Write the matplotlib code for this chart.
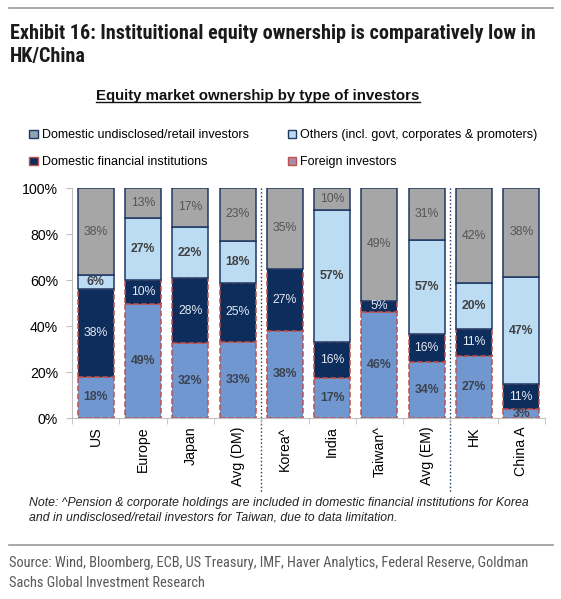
import matplotlib
matplotlib.use("Agg")
import matplotlib.pyplot as plt
import matplotlib.transforms as mtransforms
from matplotlib import font_manager as fm
from matplotlib.patches import Patch
from matplotlib.lines import Line2D
import numpy as np

# Data (bar heights in %, and the printed labels)
markets = ["US", "Europe", "Japan", "Avg (DM)", "Korea^", "India",
           "Taiwan^", "Avg (EM)", "HK", "China A"]
retail = [18, 49.6, 32.5, 33.2, 38, 17.2, 46.2, 24.5, 27, 3.8]
dfi = [38, 10.4, 28.2, 25.6, 27, 16, 4.8, 12, 11.7, 10.8]
others = [6, 26.8, 22.5, 18.3, 0, 57.2, 0, 41, 19.9, 46.8]
foreign = [38, 13.2, 16.8, 22.9, 35, 9.6, 49, 22.5, 41.4, 38.6]

retail_lbl = [18, 49, 32, 33, 38, 17, 46, 34, 27, 3]
dfi_lbl = [38, 10, 28, 25, 27, 16, 5, 16, 11, 11]
others_lbl = [6, 27, 22, 18, None, 57, None, 57, 20, 47]
foreign_lbl = [38, 13, 17, 23, 35, 10, 49, 31, 42, 38]

yticks = [0, 20, 40, 60, 80, 100]
group_breaks = [3.5, 7.5]

ARIAL = ["Liberation Sans", "DejaVu Sans"]

# pick a narrow face for the title/source if one is installed
avail = {(f.name, f.stretch) for f in fm.fontManager.ttflist}
narrow_family, narrow_stretch = "Liberation Sans", "normal"
for fam, st in [("Liberation Sans Narrow", None), ("Roboto Condensed", None),
                ("Noto Sans", "condensed"), ("Open Sans", "condensed"),
                ("Roboto", "condensed"), ("DejaVu Sans", "condensed")]:
    hits = [s for (n, s) in avail if n == fam and (st is None or s == st)]
    if hits:
        narrow_family, narrow_stretch = fam, (st or "normal")
        break
NARROW = [narrow_family, "DejaVu Sans"]

GREY = "#a6a6a6"
LIGHT = "#bcdcf4"
NAVY = "#0d2d5c"
MID = "#7097cf"
RED = "#c0504d"
EDGE = "#1f3864"

W, H = 561, 599
fig = plt.figure(figsize=(W / 100, H / 100), dpi=100)


def fx(px):
    return px / W


def fy(py):
    return 1 - py / H


ax = fig.add_axes([fx(72), fy(418), fx(545) - fx(72), fy(188) - fy(418)])

x = np.arange(len(markets))
width = 0.76
bottom = np.zeros(len(markets))
series = [
    (retail, retail_lbl, MID, RED, "--", "#3b4250", "bold"),
    (dfi, dfi_lbl, NAVY, RED, "--", "#e4e9f2", "normal"),
    (others, others_lbl, LIGHT, EDGE, "-", "#404040", "bold"),
    (foreign, foreign_lbl, GREY, EDGE, "-", "#555555", "normal"),
]
for vals, lbls, fc, ec, ls, tc, fw in series:
    vals = np.array(vals, dtype=float)
    ax.bar(x, vals, width, bottom=bottom, color=fc, edgecolor=ec,
           linestyle=ls, linewidth=1.1, zorder=2)
    for i, (v, l) in enumerate(zip(vals, lbls)):
        if l is None:
            continue
        ax.text(x[i], bottom[i] + v / 2, f"{l}%", ha="center", va="center",
                fontsize=8.8, color=tc, fontweight=fw, family=ARIAL, zorder=3)
    bottom += vals

ax.set_xlim(-0.5, len(markets) - 0.5)
ax.set_ylim(0, 100)
ax.set_yticks(yticks)
ax.set_yticklabels([f"{t}%" for t in yticks], family=ARIAL, fontsize=10.2)
ax.set_xticks(x)
ax.set_xticklabels(markets, rotation=90, family=ARIAL, fontsize=10.2)
ax.set_xticks(np.arange(-0.5, len(markets)), minor=True)
ax.tick_params(axis="x", which="major", length=0, pad=6)
ax.tick_params(axis="x", which="minor", length=4, color="#bfbfbf")
ax.tick_params(axis="y", length=4, color="#bfbfbf", pad=6)
for s in ["top", "right"]:
    ax.spines[s].set_visible(False)
for s in ["left", "bottom"]:
    ax.spines[s].set_color("#bfbfbf")

# dotted separators between DM / EM / China groups
trans = mtransforms.blended_transform_factory(ax.transData, ax.transAxes)
for b in group_breaks:
    ax.plot([b, b], [1.0, -(492 - 418) / 230], transform=trans, color=EDGE,
            linestyle=":", linewidth=1.0, clip_on=False, zorder=1)

# legend (column-wise fill)
handles = [
    Patch(facecolor="#93a3b6", edgecolor=EDGE, linewidth=1),
    Patch(facecolor=NAVY, edgecolor=RED, linewidth=1),
    Patch(facecolor=LIGHT, edgecolor=EDGE, linewidth=1),
    Patch(facecolor="#a88cab", edgecolor=RED, linewidth=1),
]
labels = ["Domestic undisclosed/retail investors",
          "Domestic financial institutions",
          "Others (incl. govt, corporates & promoters)",
          "Foreign investors"]
fig.legend(handles, labels, ncol=2, loc="upper left",
           bbox_to_anchor=(fx(23), fy(123)), frameon=False, borderpad=0,
           handlelength=0.7, handleheight=0.7, handletextpad=0.3,
           columnspacing=3.1, labelspacing=1.2,
           prop={"family": ARIAL, "size": 9})

# titles
t1 = fig.text(fx(10), fy(39), "Exhibit 16: Instituitional equity ownership is comparatively low in",
              family=NARROW, stretch=narrow_stretch, fontweight="bold",
              fontsize=14.5, color="#1a1a1a", va="baseline")
t2 = fig.text(fx(10), fy(62), "HK/China", family=NARROW, stretch=narrow_stretch,
              fontweight="bold", fontsize=14.5, color="#1a1a1a", va="baseline")
sub = fig.text(fx(258), fy(100), "Equity market ownership by type of investors",
               family=ARIAL, fontweight="bold", fontsize=10.8, color="#111111",
               ha="center", va="baseline")

note1 = fig.text(fx(29), fy(503), "Note: ^Pension & corporate holdings are included in domestic financial institutions for Korea",
                 family=ARIAL, style="italic", fontsize=8.6, color="#222222", va="center")
note2 = fig.text(fx(29), fy(517), "and in undisclosed/retail investors for Taiwan, due to data limitation.",
                 family=ARIAL, style="italic", fontsize=8.6, color="#222222", va="center")

s1 = fig.text(fx(9), fy(563), "Source: Wind, Bloomberg, ECB, US Treasury, IMF, Haver Analytics, Federal Reserve, Goldman",
              family=NARROW, stretch=narrow_stretch, fontsize=10.5, color="#595959", va="center")
s2 = fig.text(fx(9), fy(583), "Sachs Global Investment Research",
              family=NARROW, stretch=narrow_stretch, fontsize=10.5, color="#595959", va="center")

# horizontal rules
for yy in [8, 545]:
    fig.add_artist(Line2D([fx(9), fx(553)], [fy(yy), fy(yy)], color="#9a9a9a",
                          linewidth=1.2))

# shrink the long lines so they span the same width as in the exhibit
fig.canvas.draw()
renderer = fig.canvas.get_renderer()
for main, extra, target in [(t1, [t2], 525), (s1, [s2], 521), (note1, [note2], 496)]:
    w = main.get_window_extent(renderer).width
    if w > 0:
        size = main.get_fontsize() * target / w
        size = min(size, main.get_fontsize() * 1.15)
        for t in [main] + extra:
            t.set_fontsize(size)

# underline for the chart subtitle
fig.canvas.draw()
bb = sub.get_window_extent().transformed(fig.transFigure.inverted())
uy = fy(102)
fig.add_artist(Line2D([bb.x0, bb.x1], [uy, uy], color="#111111", linewidth=1.0))

fig.savefig("out.png", dpi=100)
